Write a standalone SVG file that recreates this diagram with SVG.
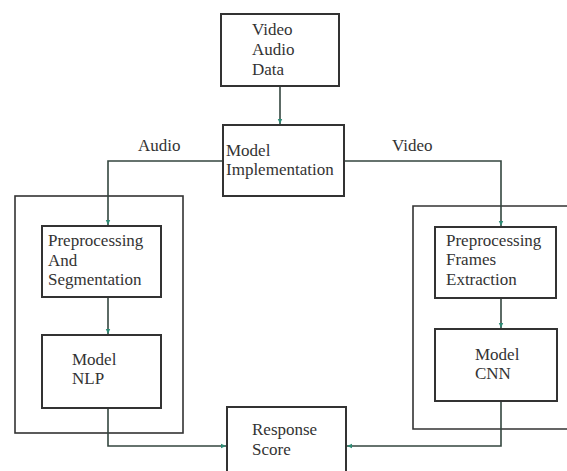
<svg xmlns="http://www.w3.org/2000/svg" width="567" height="471" viewBox="0 0 567 471">
<defs>
<marker id="ah" markerWidth="6" markerHeight="6" refX="5" refY="3" orient="auto" markerUnits="userSpaceOnUse">
<path d="M0,0.8 L5,3 L0,5.2 Z" fill="#2e8a74"/>
</marker>
</defs>
<style>
.box{fill:#fff;stroke:#333;stroke-width:2}
.outer{fill:none;stroke:#333;stroke-width:1.6}
.t{font-size:17px;fill:#333}
.ca{fill:none;stroke:#34463f;stroke-width:1.6;marker-end:url(#ah)}
</style>
<rect width="567" height="471" fill="#fff"/>
<g id="outer-audio"><rect class="outer" x="15" y="196" width="168" height="237"/></g>
<g id="outer-video"><path class="outer" d="M567,206 H413 V429 H567"/></g>
<g id="connectors">
<path class="ca" d="M280,86 V124"/>
<path class="ca" d="M223,161 H108 V225"/>
<path class="ca" d="M344,161 H501 V226"/>
<path class="ca" d="M108,297 V334"/>
<path class="ca" d="M501,298 V328"/>
<path class="ca" d="M108,408 V446 H226"/>
<path class="ca" d="M501,401 V446 H347"/>
</g>
<g font-family="Liberation Serif, Times New Roman, Times, serif">
<g id="label-audio"><text class="t" x="138" y="151">Audio</text></g>
<g id="label-video"><text class="t" x="392" y="151">Video</text></g>
<g id="video-audio-data">
<rect class="box" x="221" y="14" width="118" height="72"/>
<text class="t" x="252" y="35">Video</text>
<text class="t" x="252" y="55">Audio</text>
<text class="t" x="252" y="75">Data</text>
</g>
<g id="model-implementation">
<rect class="box" x="223" y="125" width="121" height="71"/>
<text class="t" x="226" y="156">Model</text>
<text class="t" x="226" y="175">Implementation</text>
</g>
<g id="preprocessing-segmentation">
<rect class="box" x="42" y="226" width="119" height="71"/>
<text class="t" x="48" y="246">Preprocessing</text>
<text class="t" x="48" y="266">And</text>
<text class="t" x="48" y="285">Segmentation</text>
</g>
<g id="model-nlp">
<rect class="box" x="42" y="335" width="119" height="73"/>
<text class="t" x="72" y="365">Model</text>
<text class="t" x="72" y="384">NLP</text>
</g>
<g id="preprocessing-frames">
<rect class="box" x="435" y="227" width="121" height="71"/>
<text class="t" x="446" y="246">Preprocessing</text>
<text class="t" x="446" y="265">Frames</text>
<text class="t" x="446" y="285">Extraction</text>
</g>
<g id="model-cnn">
<rect class="box" x="435" y="329" width="122" height="72"/>
<text class="t" x="475" y="360">Model</text>
<text class="t" x="475" y="379">CNN</text>
</g>
<g id="response-score">
<rect class="box" x="227" y="407" width="119" height="80"/>
<text class="t" x="252" y="435">Response</text>
<text class="t" x="252" y="455">Score</text>
</g>
</g>
</svg>
